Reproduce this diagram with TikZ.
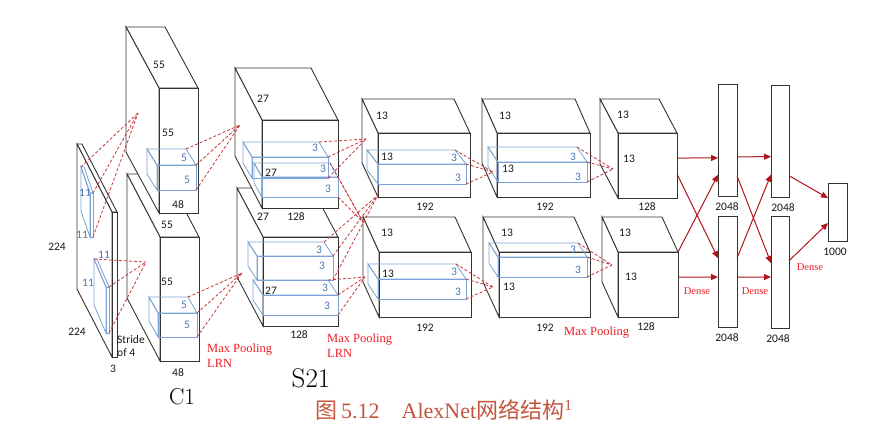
\documentclass[tikz,border=0pt]{standalone}
\usepackage{fontspec}
\usepackage{xcolor}
\usetikzlibrary{arrows.meta,calc}
\newfontfamily\dimfont{Carlito}
\newfontfamily\opfont{Liberation Serif}
\newfontfamily\cjkfont{Noto Sans CJK SC}
\definecolor{netred}{HTML}{B3141C}
\definecolor{linkred}{HTML}{C8383C}
\definecolor{opred}{HTML}{EE1C24}
\definecolor{kernblue}{HTML}{7BA3D6}
\definecolor{kerntext}{HTML}{4A78B8}
\definecolor{capred}{HTML}{C4553F}

% cuboid: name, front top-left (x,y), front bottom-right (x,y), depth (dx,dy), style
\newcommand{\cuboid}[8]{%
  \path[#8] (#2,#3) -- ++(#6,#7) coordinate (#1-bl) -- ++({#4-#2},0) coordinate (#1-br) -- (#4,#3) -- cycle;
  \path[#8] (#2,#3) -- ++(#6,#7) -- ++(0,{#5-#3}) -- (#2,#5) -- cycle;
  \node[#8, inner sep=0pt, outer sep=0pt, anchor=north west,
    minimum width={(#4-#2)*1pt}, minimum height={(#5-#3)*1pt}] (#1) at (#2,#3) {};
}
% point on the east/west side of a node, at a fraction of its height
\newcommand{\edgept}[3]{($(#1.north #2)!#3!(#1.south #2)$)}

\begin{document}
\begin{tikzpicture}[
    x=1pt, y=-1pt,
    layer/.style={draw=black!80, fill=white, line width=0.9pt},
    kernel/.style={draw=kernblue, line width=0.8pt},
    dense/.style={draw=black!80, fill=white, line width=0.9pt,
      inner sep=0pt, outer sep=0pt, anchor=north west},
    link/.style={draw=linkred, line width=0.8pt, dash pattern=on 3pt off 2pt},
    fwd/.style={-{Triangle[length=7pt,width=6pt]}, draw=netred, line width=1pt},
    dim/.style={font=\dimfont\fontsize{11.5}{13}\selectfont, text=black!90, inner sep=0pt},
    kdim/.style={dim, text=kerntext},
    op/.style={font=\opfont\fontsize{12.5}{15}\selectfont, text=opred, align=left, inner sep=0pt}
  ]
  \fill[white] (0,0) rectangle (885,440);
  \useasboundingbox (0,0) rectangle (885,440);

  % feature maps
  \cuboid{img}{112}{212}{117}{357}{-35}{-68}{layer}
  \cuboid{c1b}{160}{237}{199}{361}{-33}{-63}{layer}
  \cuboid{c1a}{159}{88}{198}{213}{-33}{-61}{layer}
  \cuboid{s2b}{263}{237}{338}{326}{-26}{-49}{layer}
  \cuboid{s2a}{262}{120}{338}{208}{-27}{-52}{layer}
  \cuboid{l3a}{378}{133}{470}{197}{-16}{-34}{layer}
  \cuboid{l3b}{379}{252}{471}{317}{-16}{-35}{layer}
  \cuboid{l4a}{497}{133}{590}{197}{-15}{-34}{layer}
  \cuboid{l4b}{499}{252}{590}{317}{-16}{-35}{layer}
  \cuboid{l5a}{618}{133}{677}{198}{-18}{-34}{layer}
  \cuboid{l5b}{618}{252}{678}{317}{-16}{-35}{layer}

  % dense layers
  \node[dense, minimum width=19pt, minimum height=112pt] (fc6a) at (718,84) {};
  \node[dense, minimum width=19pt, minimum height=111pt] (fc6b) at (718,216) {};
  \node[dense, minimum width=18pt, minimum height=112pt] (fc7a) at (771,85) {};
  \node[dense, minimum width=18pt, minimum height=112pt] (fc7b) at (771,216) {};
  \node[dense, minimum width=19pt, minimum height=58pt] (fc8) at (828,183) {};

  % kernels
  \cuboid{kin1}{90}{193}{93}{237}{-9}{-26}{kernel}
  \cuboid{kin2}{106}{287}{109}{333}{-12}{-28}{kernel}
  \cuboid{kc1a}{157}{165}{196}{190}{-10}{-16}{kernel}
  \cuboid{kc1b}{158}{313}{197}{337}{-9}{-16}{kernel}
  \cuboid{ks2a1}{252}{157}{328}{178}{-9}{-15}{kernel}
  \cuboid{ks2a2}{262}{177}{338}{197}{-8}{-14}{kernel}
  \cuboid{ks2b1}{257}{256}{333}{280}{-9}{-14}{kernel}
  \cuboid{ks2b2}{263}{295}{338}{315}{-10}{-15}{kernel}
  \cuboid{kl3a}{378}{164}{466}{184}{-11}{-14}{kernel}
  \cuboid{kl3b}{378}{279}{466}{299}{-10}{-15}{kernel}
  \cuboid{kl4a}{498}{162}{587}{182}{-10}{-15}{kernel}
  \cuboid{kl4b}{498}{257}{587}{277}{-9}{-14}{kernel}

  % receptive field targets
  \coordinate (c1a-in) at (138,113);
  \coordinate (c1b-in) at (146,262);
  \coordinate (s2a-in) at (240,125);
  \coordinate (s2b-in) at (242,273);
  \coordinate (l3a-in1) at (366,139);
  \coordinate (l3a-in2) at (378,195);
  \coordinate (l3b-in1) at (363,222);
  \coordinate (l3b-in2) at (365,277);
  \coordinate (l4a-in) at (493,172);
  \coordinate (l4b-in) at (493,287);
  \coordinate (l5a-in) at (613,169);
  \coordinate (l5b-in) at (612,265);

  \foreach \s in {kin1-bl, kin1.north east, kin1.south east} \draw[link] (\s) -- (c1a-in);
  \foreach \s in {kin2-bl, kin2.north east, kin2.south east} \draw[link] (\s) -- (c1b-in);
  \foreach \k/\t in {kc1a/s2a-in, kc1b/s2b-in, ks2a1/l3a-in1, ks2a2/l3b-in1,
      ks2b1/l3a-in2, ks2b2/l3b-in2, kl3a/l4a-in, kl3b/l4b-in, kl4a/l5a-in, kl4b/l5b-in}
    \foreach \s in {\k-br, \k.north east, \k.south east} \draw[link] (\s) -- (\t);

  % dense connections
  \draw[fwd] \edgept{l5a}{east}{0.385} -- \edgept{fc6a}{west}{0.66};
  \draw[fwd] \edgept{l5a}{east}{0.63} -- \edgept{fc6b}{west}{0.38};
  \draw[fwd] \edgept{l5b}{east}{0} -- \edgept{fc6a}{west}{0.81};
  \draw[fwd] \edgept{l5b}{east}{0.385} -- \edgept{fc6b}{west}{0.55};
  \draw[fwd] \edgept{fc6a}{east}{0.65} -- \edgept{fc7a}{west}{0.64};
  \draw[fwd] \edgept{fc6a}{east}{0.82} -- \edgept{fc7b}{west}{0.42};
  \draw[fwd] \edgept{fc6b}{east}{0.38} -- \edgept{fc7a}{west}{0.80};
  \draw[fwd] \edgept{fc6b}{east}{0.55} -- \edgept{fc7b}{west}{0.545};
  \draw[fwd] \edgept{fc7a}{east}{0.81} -- \edgept{fc8}{west}{0.26};
  \draw[fwd] \edgept{fc7b}{east}{0.40} -- \edgept{fc8}{west}{0.69};

  % sizes
  \foreach \x/\y/\t [count=\i] in {57/247/224, 77/332/224, 113/369/3,
      159/65/55, 168/133/55, 178/205/48, 167/225/55, 167/282/55, 178/373/48,
      263/99/27, 271/173/27, 263/217/27, 296/217/128, 271/291/27, 299/335/128,
      382/116/13, 387/157/13, 425/207/192, 387/233/13, 388/274/13, 425/328/192,
      505/116/13, 508/169/13, 545/207/192, 507/233/13, 509/287/13, 545/328/192,
      623/115/13, 629/159/13, 647/207/128, 625/233/13, 631/277/13, 646/327/128,
      727/207/2048, 783/208/2048, 727/338/2048, 778/339/2048, 835/252/1000}
    \node[dim] (size\i) at (\x,\y) {\t};
  \node[dim, align=left, anchor=west] (stride) at (117,346) {Stride\\of 4};

  \foreach \x/\y/\t [count=\i] in {85/193/11, 82/235/11, 104/255/11, 88/283/11,
      184/158/5, 187/180/5, 184/305/5, 187/325/5,
      315/148/3, 323/169/3, 328/189/3, 319/250/3, 322/266/3, 325/288/3, 327/306/3,
      454/158/3, 458/178/3, 454/272/3, 458/292/3,
      573/157/3, 578/177/3, 573/250/3, 578/270/3}
    \node[kdim] (ksize\i) at (\x,\y) {\t};

  % operations
  \node[op, anchor=west] (pool1) at (207,356) {Max Pooling\\LRN};
  \node[op, anchor=west] (pool2) at (327,346) {Max Pooling\\LRN};
  \node[op, anchor=west] (pool3) at (564,333) {Max Pooling};
  \node[op, font=\opfont\fontsize{10.5}{12}\selectfont] (dense1) at (697,291) {Dense};
  \node[op, font=\opfont\fontsize{10.5}{12}\selectfont] (dense2) at (755,291) {Dense};
  \node[op, font=\opfont\fontsize{10.5}{12}\selectfont] (dense3) at (810,267) {Dense};

  \node[font=\fontsize{23}{23}\selectfont, inner sep=0pt] (c1name) at (182,397) {C1};
  \node[font=\fontsize{27}{27}\selectfont, inner sep=0pt] (s2name) at (311,378) {S21};
  \node[text=capred, font=\opfont\fontsize{22}{22}\selectfont, inner sep=0pt] (caption) at (444,410)
    {{\cjkfont 图}\,5.12\hspace{22pt}AlexNet{\cjkfont 网络结构}\textsuperscript{1}};
\end{tikzpicture}
\end{document}
